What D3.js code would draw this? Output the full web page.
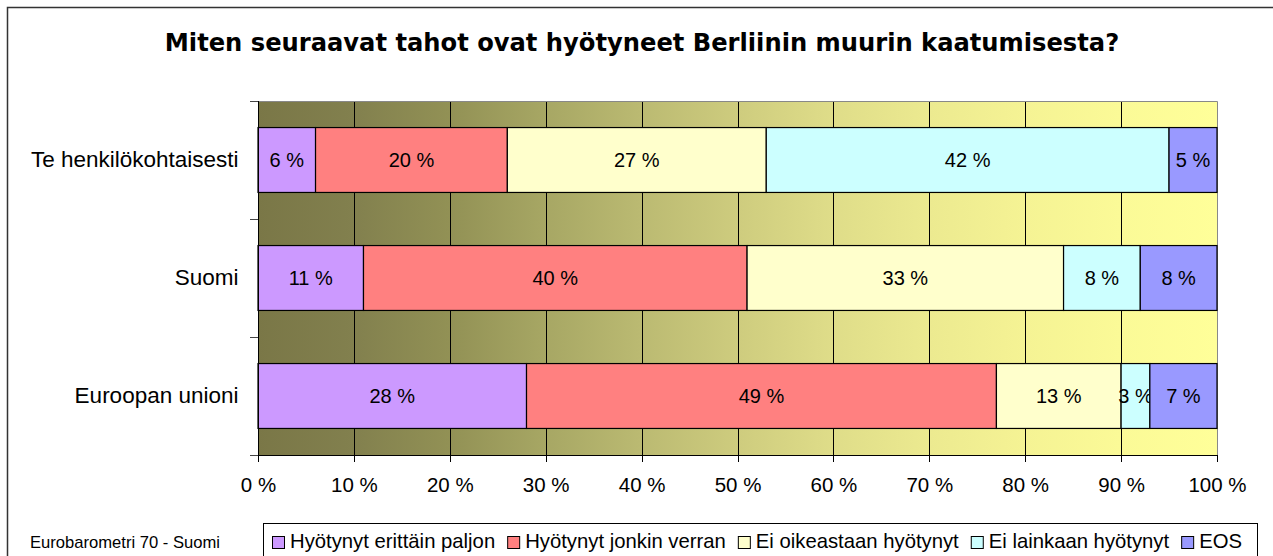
<!DOCTYPE html>
<html>
<head>
	<meta charset="utf-8">
	<title>Berliinin muuri</title>
	<style type="text/css">
		body {
			margin: 0;
			background: #fff;
		}

		svg text {
			font-family: "Liberation Sans", Arial, sans-serif;
			fill: #000;
		}

		.title {
			font-family: "DejaVu Sans", Verdana, sans-serif !important;
			font-weight: bold;
			font-size: 24.2px;
		}

		.axis path, .axis line {
			shape-rendering: crispEdges;
		}
	</style>
	<script src="https://d3js.org/d3.v7.min.js"></script>
</head>
<body>
<script type="text/javascript">
	var categories = ["Te henkilökohtaisesti", "Suomi", "Euroopan unioni"];
	var seriesNames = ["Hyötynyt erittäin paljon", "Hyötynyt jonkin verran", "Ei oikeastaan hyötynyt", "Ei lainkaan hyötynyt", "EOS"];
	var seriesColors = ["#cc99ff", "#ff8080", "#ffffcc", "#ccffff", "#9999ff"];
	// one row per category, one value per series (%)
	var values = [
		[6, 20, 27, 42, 5],
		[11, 40, 33, 8, 8],
		[28, 49, 13, 3, 7]
	];
	var xTicks = [0, 10, 20, 30, 40, 50, 60, 70, 80, 90, 100];
	var bgStops = ["#7a7747", "#82804e", "#929155", "#a7a764", "#bbba72", "#cecc7e", "#dfdd89", "#ecea90", "#f5f394", "#fbfa97", "#ffff99"];

	var svg = d3.select("body").append("svg")
			.attr("width", 1273)
			.attr("height", 556);

	svg.append("rect")
		.attr("x", 7.5).attr("y", 7.5)
		.attr("width", 1300).attr("height", 600)
		.attr("fill", "#fff")
		.attr("stroke", "#333")
		.attr("stroke-width", 1.5);

	var margin = {top: 101, left: 258, right: 1217, bottom: 455};

	var x = d3.scaleLinear().domain([0, 100]).range([margin.left, margin.right]);
	var y = d3.scaleBand().domain(categories).range([margin.top, margin.bottom])
		.paddingInner(0.45).paddingOuter(0.225);
	var yEdge = d3.scaleLinear().domain([0, categories.length]).range([margin.top, margin.bottom]);

	// background gradient
	var grad = svg.append("defs").append("linearGradient")
		.attr("id", "bg")
		.attr("x1", "0%").attr("x2", "100%").attr("y1", "0%").attr("y2", "0%");
	grad.selectAll("stop")
		.data(bgStops)
		.enter().append("stop")
			.attr("offset", function(d, i) { return (i / (bgStops.length - 1) * 100) + "%"; })
			.attr("stop-color", function(d) { return d; });

	svg.append("rect")
		.attr("x", x(0)).attr("y", margin.top)
		.attr("width", x(100) - x(0)).attr("height", margin.bottom - margin.top)
		.attr("fill", "url(#bg)");

	// vertical gridlines
	svg.append("g")
		.selectAll("line")
		.data(xTicks.slice(1, -1))
		.enter().append("line")
			.attr("x1", function(d) { return Math.round(x(d)) + 0.5; })
			.attr("x2", function(d) { return Math.round(x(d)) + 0.5; })
			.attr("y1", margin.top).attr("y2", margin.bottom)
			.attr("stroke", "#000")
			.attr("stroke-width", 1);

	// plot border top / right
	svg.append("path")
		.attr("d", "M" + x(0) + "," + (margin.top + 0.5) + "H" + (x(100) + 0.5) + "V" + margin.bottom)
		.attr("fill", "none")
		.attr("stroke", "#888")
		.attr("stroke-width", 1);

	// stacked bars
	var stackData = categories.map(function(c, i) {
		var row = {cat: c};
		seriesNames.forEach(function(s, j) { row[s] = values[i][j]; });
		return row;
	});
	var stacked = d3.stack().keys(seriesNames)(stackData);

	var layers = svg.selectAll(".layer")
		.data(stacked)
		.enter().append("g")
			.attr("class", "layer")
			.attr("fill", function(d, i) { return seriesColors[i]; });

	layers.selectAll("rect")
		.data(function(d) { return d; })
		.enter().append("rect")
			.attr("x", function(d) { return x(d[0]); })
			.attr("y", function(d) { return y(d.data.cat); })
			.attr("width", function(d) { return x(d[1]) - x(d[0]); })
			.attr("height", y.bandwidth())
			.attr("stroke", "#000")
			.attr("stroke-width", 1.2);

	layers.selectAll("text")
		.data(function(d) { return d; })
		.enter().append("text")
			.attr("x", function(d) { return (x(d[0]) + x(d[1])) / 2; })
			.attr("y", function(d) { return y(d.data.cat) + y.bandwidth() / 2; })
			.attr("dy", "0.35em")
			.attr("text-anchor", "middle")
			.style("font-size", "20px")
			.text(function(d) { return (d[1] - d[0]) + " %"; });

	// x axis
	var xAxis = svg.append("g")
		.attr("class", "axis")
		.attr("transform", "translate(0," + margin.bottom + ")")
		.call(d3.axisBottom(x).tickValues(xTicks).tickSize(7).tickPadding(15)
			.tickFormat(function(d) { return d + " %"; }));
	xAxis.select(".domain").attr("d", "M" + (x(0) - 8) + ",0.5H" + x(100));
	xAxis.selectAll("text").style("font-size", "20.5px").attr("font-family", null);

	// y axis: ticks at category edges
	var yAxis = svg.append("g")
		.attr("class", "axis")
		.attr("transform", "translate(" + margin.left + ",0)")
		.call(d3.axisLeft(yEdge).tickValues(d3.range(categories.length + 1)).tickSize(8).tickFormat(""));
	yAxis.select(".domain").attr("d", "M0.5," + margin.top + "V" + margin.bottom);
	yAxis.selectAll("line").attr("stroke", "#444");

	// category labels
	svg.append("g")
		.selectAll("text")
		.data(categories)
		.enter().append("text")
			.attr("x", margin.left - 19.5)
			.attr("y", function(d) { return y(d) + y.bandwidth() / 2; })
			.attr("dy", "0.33em")
			.attr("text-anchor", "end")
			.style("font-size", "22.5px")
			.text(function(d) { return d; });

	// title
	svg.append("text")
		.attr("class", "title")
		.attr("x", 642)
		.attr("y", 51)
		.attr("text-anchor", "middle")
		.text("Miten seuraavat tahot ovat hyötyneet Berliinin muurin kaatumisesta?");

	// source note
	svg.append("text")
		.attr("x", 30)
		.attr("y", 548)
		.style("font-size", "16.6px")
		.text("Eurobarometri 70 - Suomi");

	// legend
	var legend = svg.append("g");
	legend.append("rect")
		.attr("x", 263.5).attr("y", 523.5)
		.attr("width", 994).attr("height", 60)
		.attr("fill", "#fff")
		.attr("stroke", "#000")
		.attr("stroke-width", 1);

	var cursor = 272;
	seriesNames.forEach(function(s, i) {
		legend.append("rect")
			.attr("x", cursor + 0.5).attr("y", 536.5)
			.attr("width", 12).attr("height", 12)
			.attr("fill", seriesColors[i])
			.attr("stroke", "#000")
			.attr("stroke-width", 1);
		var t = legend.append("text")
			.attr("x", cursor + 18)
			.attr("y", 548)
			.style("font-size", "20.3px")
			.text(s);
		cursor += 18 + t.node().getComputedTextLength() + 12;
	});
</script>
</body>
</html>
